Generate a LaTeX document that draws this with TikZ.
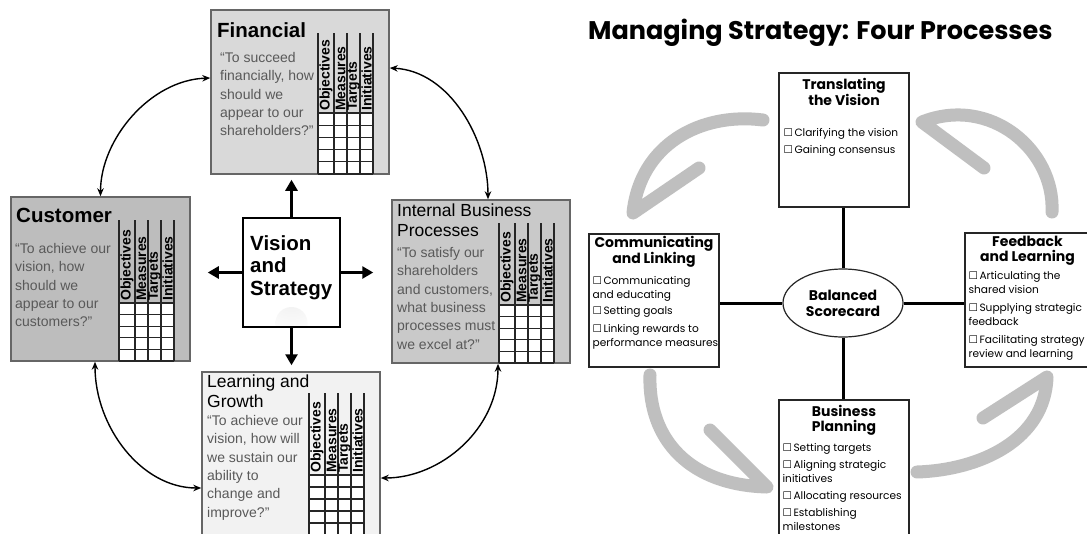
\documentclass[tikz,border=0pt]{standalone}
\usepackage{fontspec}
\setmainfont{Liberation Sans}
\newfontfamily\futura[BoldFont={Poppins Bold}]{Poppins}
\newfontfamily\simbolos{DejaVu Sans}
\usetikzlibrary{arrows.meta,shapes.geometric,positioning}

\newcommand{\casilla}{{\simbolos\fontsize{10.5pt}{14pt}\selectfont ☐}\hspace{1.5pt}}

% rejilla: x, y cabecera, y filas, y final, nombre
\newcommand{\rejilla}[5]{%
  \fill[white] (#1,#3) rectangle (#1+55,#4);
  \foreach \dx in {0,16,29,42,55}
    \draw[linea] (#1+\dx,#2) -- (#1+\dx,#4);
  \foreach \k in {0,...,5}
    \draw[linea] (#1,{#3+\k*(#4-#3)/5}) -- (#1+55,{#3+\k*(#4-#3)/5});
  \foreach \dx/\lab in {8/Objectives,22.5/Measures,35.5/Targets,48.5/Initiatives}
    \node[columna] (#5-\lab) at (#1+\dx,#3-2) {\lab};
}

\begin{document}
\begin{tikzpicture}[x=1pt,y=-1pt, >={Stealth[length=8pt,width=6.5pt]},
  marco/.style={draw=black!60, line width=1.5pt, inner sep=0pt},
  linea/.style={draw=black!85, line width=1.1pt},
  columna/.style={rotate=90, anchor=west, inner sep=0pt, font=\bfseries\fontsize{14pt}{14pt}\selectfont},
  titulo/.style={anchor=base west, inner sep=0pt, font=\bfseries\fontsize{20.5pt}{20.5pt}\selectfont},
  subtitulo/.style={anchor=north west, inner sep=0pt, align=left, font=\fontsize{17.5pt}{20pt}\selectfont},
  cita/.style={anchor=north west, inner sep=0pt, align=left, text=black!65, font=\fontsize{14pt}{18.4pt}\selectfont},
  enlace/.style={<->, line width=1.4pt},
  flecha/.style={line width=2.6pt, -{Triangle[length=11pt,width=12pt]}},
  proceso/.style={draw=black!85, line width=1.2pt, fill=white, minimum width=130pt, inner sep=0pt},
  cabeza/.style={inner sep=0pt, align=center, font=\futura\bfseries\fontsize{14pt}{15pt}\selectfont},
  lista/.style={inner sep=0pt, align=left, font=\futura\fontsize{10.6pt}{14pt}\selectfont},
  eje/.style={line width=3pt},
  giro/.style={draw=black!25, line width=13pt, line cap=round, line join=round}]

\path[fill=white, use as bounding box] (0,0) rectangle (1087,533);

% ---
% Cajas
% ---
\node[marco, fill=black!15, minimum width=178pt, minimum height=164pt] (fin) at (300,92) {};
\node[marco, fill=black!26, minimum width=179pt, minimum height=164pt] (cus) at (100.5,279) {};
\node[marco, fill=black!21, minimum width=178pt, minimum height=163pt] (int) at (481,281.5) {};
\node[marco, fill=black!5, minimum width=178pt, minimum height=176pt] (lea) at (291,460) {};
\node[draw, line width=2.2pt, fill=white, minimum width=97pt, minimum height=109pt,
  path picture={\shade[inner color=black!9, outer color=white] ([yshift=4pt]path picture bounding box.south) circle (16pt);}] (vis) at (291.5,272.5) {};

% Textos
\node[titulo] (fin-t) at (217,37) {Financial};
\node[cita] (fin-q) at (220,52) {“To succeed\\financially, how\\should we\\appear to our\\shareholders?”};

\node[titulo] (cus-t) at (16,222) {Customer};
\node[cita] (cus-q) at (15,243) {“To achieve our\\vision, how\\should we\\appear to our\\customers?”};

\node[subtitulo] (int-t) at (397,204) {Internal Business\\Processes};
\node[cita] (int-q) at (397,247) {“To satisfy our\\shareholders\\and customers,\\what business\\processes must\\we excel at?”};

\node[subtitulo] (lea-t) at (207,375) {Learning and\\Growth};
\node[cita] (lea-q) at (207,415) {“To achieve our\\vision, how will\\we sustain our\\ability to\\change and\\improve?”};

\node[anchor=north west, inner sep=0pt, align=left, font=\bfseries\fontsize{20.5pt}{22.5pt}\selectfont] (vis-t) at (250,235) {Vision\\and\\Strategy};

% Rejillas
\rejilla{318}{33}{113}{174}{fin}
\rejilla{119}{220}{303}{361}{cus}
\rejilla{499}{223}{305}{363}{int}
\rejilla{309}{393}{475}{535}{lea}

% Flechas
\draw[flecha, shorten >=5pt] (vis.north) -- (vis.north |- fin.south);
\draw[flecha, shorten >=6pt] (vis.south) -- (vis.south |- lea.north);
\draw[flecha, shorten >=17pt] (vis.west) -- (vis.west -| cus.east);
\draw[flecha, shorten >=18pt] (vis.east) -- (vis.east -| int.west);

\draw[enlace] ([yshift=14pt]fin.west) .. controls +(-60,2) and +(0,-57) .. (cus.north);
\draw[enlace] ([yshift=24pt]fin.east) .. controls +(60,3) and +(0,-60) .. ([xshift=7pt]int.north);
\draw[enlace] ([xshift=17pt]int.south) .. controls +(0,65) and +(60,0) .. ([yshift=-18pt]lea.east);
\draw[enlace] ([xshift=-5.5pt]cus.south) .. controls +(0,65) and +(-60,0) .. ([yshift=-28pt]lea.west);

% ---
% Cuatro procesos
% ---
\node[anchor=base west, inner sep=0pt, font=\futura\bfseries\fontsize{25.5pt}{25.5pt}\selectfont] (tit) at (588,39) {Managing Strategy: Four Processes};

% Flechas grises
\coordinate (g1a) at (763,120); \coordinate (g1b) at (633,213); \coordinate (g1c) at (699,168);
\coordinate (g2a) at (1052,212); \coordinate (g2b) at (922,122); \coordinate (g2c) at (984,168);
\coordinate (g3a) at (650,375); \coordinate (g3b) at (767,487); \coordinate (g3c) at (710,430);
\coordinate (g4a) at (917,472); \coordinate (g4b) at (1047,377); \coordinate (g4c) at (983,418);
\draw[giro] (g1a) .. controls (700,112) and (640,145) .. (g1b) -- (g1c);
\draw[giro] (g2a) .. controls (1055,150) and (990,95) .. (g2b) -- (g2c);
\draw[giro] (g3a) .. controls (648,440) and (690,485) .. (g3b) -- (g3c);
\draw[giro] (g4a) .. controls (980,470) and (1045,440) .. (g4b) -- (g4c);

% Nodos
\node[proceso, minimum height=134pt] (tra) at (844,140) {};
\node[proceso, minimum height=133pt] (com) at (654,300.5) {};
\node[proceso, minimum width=125pt, minimum height=134pt] (fee) at (1027.5,300) {};
\node[proceso, minimum height=150pt] (pla) at (844,475) {};
\node[ellipse, draw=black!85, line width=1.2pt, fill=white, minimum width=120pt, minimum height=68pt, inner sep=0pt,
  align=center, font=\futura\bfseries\fontsize{14pt}{16pt}\selectfont] (bsc) at (843,303) {Balanced\\Scorecard};

\node[cabeza, below=6pt of tra.north] (tra-t) {Translating\\the Vision};
\node[lista, below right=56pt and 5pt of tra.north west] (tra-l) {\casilla Clarifying the vision\\[3pt]\casilla Gaining consensus};

\node[cabeza, below=3pt of com.north] (com-t) {Communicating\\and Linking};
\node[lista, below right=43pt and 4pt of com.north west] (com-l) {\casilla Communicating\\and educating\\[2pt]\casilla Setting goals\\[4pt]\casilla Linking rewards to\\performance measures};

\node[cabeza, below=4pt of fee.north] (fee-t) {Feedback\\and Learning};
\node[lista, below right=39pt and 4pt of fee.north west] (fee-l) {\casilla Articulating the\\shared vision\\[4pt]\casilla Supplying strategic\\feedback\\[4pt]\casilla Facilitating strategy\\review and learning};

\node[cabeza, below=6pt of pla.north] (pla-t) {Business\\Planning};
\node[lista, below right=44pt and 4pt of pla.north west] (pla-l) {\casilla Setting targets\\[3pt]\casilla Aligning strategic\\initiatives\\[3pt]\casilla Allocating resources\\[3pt]\casilla Establishing\\milestones};

% Ejes
\draw[eje] (bsc.north) -- (bsc.north |- tra.south);
\draw[eje] (bsc.south) -- (bsc.south |- pla.north);
\draw[eje] (bsc.west) -- (bsc.west -| com.east);
\draw[eje] (bsc.east) -- (bsc.east -| fee.west);
\end{tikzpicture}
\end{document}
